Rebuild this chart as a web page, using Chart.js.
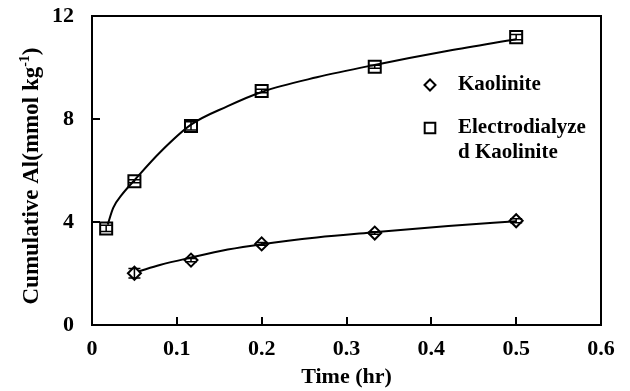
<!DOCTYPE html>
<html>
<head>
<meta charset="utf-8">
<script src="https://cdn.jsdelivr.net/npm/chart.js@4"></script>
<style>
    html, body { margin: 0; padding: 0; background: #ffffff; }
    #chartBox { width: 630px; height: 391px; }
</style>
</head>
<body>
<div id="chartBox"><canvas id="lineChart"></canvas></div>
<script>
// sampling times (hr)
const TimeKaolinite = [0.05, 0.1167, 0.2, 0.3333, 0.5];
const TimeElectro = [0.0167, 0.05, 0.1167, 0.2, 0.3333, 0.5];

// cumulative Al (mmol kg-1)
const AlKaolinite = [2.01, 2.52, 3.15, 3.57, 4.05];
const AlElectro = [3.75, 5.58, 7.73, 9.09, 10.03, 11.18];

// standard errors
const ErrKaolinite = [0.18, 0.06, 0.05, 0.05, 0.08];
const ErrElectro = [0.12, 0.06, 0.16, 0.07, 0.06, 0.1];

// fitted curves
const FitTimeKaolinite = [0.055, 0.08, 0.1167, 0.16, 0.2, 0.265, 0.333, 0.42, 0.5];
const FitAlKaolinite = [2.08, 2.33, 2.62, 2.93, 3.14, 3.40, 3.60, 3.84, 4.03];
const FitTimeElectro = [0.0185, 0.025, 0.035, 0.05, 0.08, 0.1167, 0.16, 0.2, 0.265, 0.333, 0.42, 0.5];
const FitAlElectro = [3.90, 4.55, 5.05, 5.62, 6.70, 7.78, 8.50, 9.05, 9.62, 10.10, 10.65, 11.10];

const SeriesNames = ["Kaolinite", "Electrodialyzed Kaolinite"];
const XTicks = [0, 0.1, 0.2, 0.3, 0.4, 0.5, 0.6];
const YTicks = [0, 4, 8, 12];

const jVarFont = "'Liberation Serif', 'Times New Roman', serif";

let jFToPoints = ({ inX, inY }) => inX.map((x, i) => ({ x: x, y: inY[i] }));

let jFFitLine = ({ inX, inY }) => ({
    data: jFToPoints({ inX, inY }),
    showLine: true,
    cubicInterpolationMode: "monotone",
    borderColor: "#000",
    borderWidth: 2,
    pointRadius: 0
});

let jFMarkers = ({ inLabel, inX, inY, inStyle, inRadius }) => ({
    label: inLabel,
    data: jFToPoints({ inX, inY }),
    showLine: false,
    pointStyle: inStyle,
    pointRadius: inRadius,
    pointBorderWidth: 2,
    pointBackgroundColor: "#fff",
    pointBorderColor: "#000"
});

// frame, inward tick marks, error bars, titles and legend
const jVarDecorPlugin = {
    id: "decor",
    afterDatasetsDraw(chart) {
        const ctx = chart.ctx;
        const xs = chart.scales.x;
        const ys = chart.scales.y;

        ctx.save();
        ctx.strokeStyle = "#000";
        ctx.lineWidth = 1.5;
        [[TimeKaolinite, AlKaolinite, ErrKaolinite], [TimeElectro, AlElectro, ErrElectro]].forEach(([tx, ty, te]) => {
            tx.forEach((t, i) => {
                const px = xs.getPixelForValue(t);
                const top = ys.getPixelForValue(ty[i] + te[i]);
                const bot = ys.getPixelForValue(ty[i] - te[i]);
                ctx.beginPath();
                ctx.moveTo(px, top); ctx.lineTo(px, bot);
                ctx.moveTo(px - 6, top); ctx.lineTo(px + 6, top);
                ctx.moveTo(px - 6, bot); ctx.lineTo(px + 6, bot);
                ctx.stroke();
            });
        });
        ctx.restore();
    },
    afterDraw(chart) {
        const ctx = chart.ctx;
        const a = chart.chartArea;
        const xs = chart.scales.x;
        const ys = chart.scales.y;

        ctx.save();
        ctx.strokeStyle = "#000";
        ctx.lineWidth = 2;
        ctx.strokeRect(a.left, a.top, a.right - a.left, a.bottom - a.top);

        ctx.beginPath();
        XTicks.forEach(v => {
            const px = Math.round(xs.getPixelForValue(v));
            ctx.moveTo(px, a.bottom); ctx.lineTo(px, a.bottom - 8);
        });
        YTicks.forEach(v => {
            const py = Math.round(ys.getPixelForValue(v));
            ctx.moveTo(a.left, py); ctx.lineTo(a.left + 8, py);
        });
        ctx.stroke();

        ctx.fillStyle = "#000";

        // x title
        ctx.font = "bold 22px " + jVarFont;
        ctx.textAlign = "center";
        ctx.textBaseline = "middle";
        ctx.fillText("Time (hr)", (a.left + a.right) / 2, 377);

        // y title with superscript
        const jVarMain = "Cumulative Al(mmol kg";
        const jVarSup = "-1";
        const jVarEnd = ")";
        ctx.font = "bold 23px " + jVarFont;
        const w1 = ctx.measureText(jVarMain).width;
        const w3 = ctx.measureText(jVarEnd).width;
        ctx.font = "bold 14px " + jVarFont;
        const w2 = ctx.measureText(jVarSup).width;
        const total = w1 + w2 + w3;
        ctx.translate(38, 176);
        ctx.rotate(-Math.PI / 2);
        ctx.textAlign = "left";
        ctx.textBaseline = "alphabetic";
        ctx.font = "bold 23px " + jVarFont;
        ctx.fillText(jVarMain, -total / 2, 0);
        ctx.fillText(jVarEnd, -total / 2 + w1 + w2, 0);
        ctx.font = "bold 14px " + jVarFont;
        ctx.fillText(jVarSup, -total / 2 + w1, -9);
        ctx.setTransform(1, 0, 0, 1, 0, 0);

        // legend
        ctx.lineWidth = 2;
        ctx.fillStyle = "#fff";
        Chart.helpers.drawPoint(ctx, { pointStyle: "rectRot", radius: 5.5, borderWidth: 2 }, 430, 85);
        Chart.helpers.drawPoint(ctx, { pointStyle: "rect", radius: 7.5, borderWidth: 2 }, 430, 128);
        ctx.fillStyle = "#000";
        ctx.font = "bold 21px " + jVarFont;
        ctx.textAlign = "left";
        ctx.textBaseline = "middle";
        ctx.fillText(SeriesNames[0], 458, 85);
        ctx.fillText("Electrodialyze", 458, 128);
        ctx.fillText("d Kaolinite", 458, 153);
        ctx.restore();
    }
};

const StartFunc = () => {
    const ctx = document.getElementById("lineChart");

    new Chart(ctx, {
        type: "scatter",
        data: {
            datasets: [
                jFFitLine({ inX: FitTimeKaolinite, inY: FitAlKaolinite }),
                jFFitLine({ inX: FitTimeElectro, inY: FitAlElectro }),
                jFMarkers({ inLabel: SeriesNames[0], inX: TimeKaolinite, inY: AlKaolinite, inStyle: "rectRot", inRadius: 6.5 }),
                jFMarkers({ inLabel: SeriesNames[1], inX: TimeElectro, inY: AlElectro, inStyle: "rect", inRadius: 8.5 })
            ]
        },
        options: {
            responsive: true,
            maintainAspectRatio: false,
            animation: false,
            events: [],
            layout: { padding: { left: 0, right: 29, top: 16, bottom: 0 } },
            plugins: {
                legend: { display: false },
                tooltip: { enabled: false }
            },
            scales: {
                x: {
                    type: "linear",
                    min: 0,
                    max: 0.6,
                    afterBuildTicks: (scale) => { scale.ticks = XTicks.map(v => ({ value: v })); },
                    afterFit: (scale) => { scale.height = 66; scale.paddingLeft = 0; scale.paddingRight = 0; },
                    grid: { display: false, drawTicks: false },
                    border: { display: false },
                    ticks: {
                        padding: 11,
                        color: "#000",
                        maxRotation: 0,
                        font: { family: jVarFont, size: 22, weight: "bold" }
                    }
                },
                y: {
                    type: "linear",
                    min: 0,
                    max: 12,
                    afterBuildTicks: (scale) => { scale.ticks = YTicks.map(v => ({ value: v })); },
                    afterFit: (scale) => { scale.width = 92; scale.paddingTop = 0; scale.paddingBottom = 0; },
                    grid: { display: false, drawTicks: false },
                    border: { display: false },
                    ticks: {
                        padding: 18,
                        color: "#000",
                        font: { family: jVarFont, size: 22, weight: "bold" }
                    }
                }
            }
        },
        plugins: [jVarDecorPlugin]
    });
};

StartFunc();
</script>
</body>
</html>
